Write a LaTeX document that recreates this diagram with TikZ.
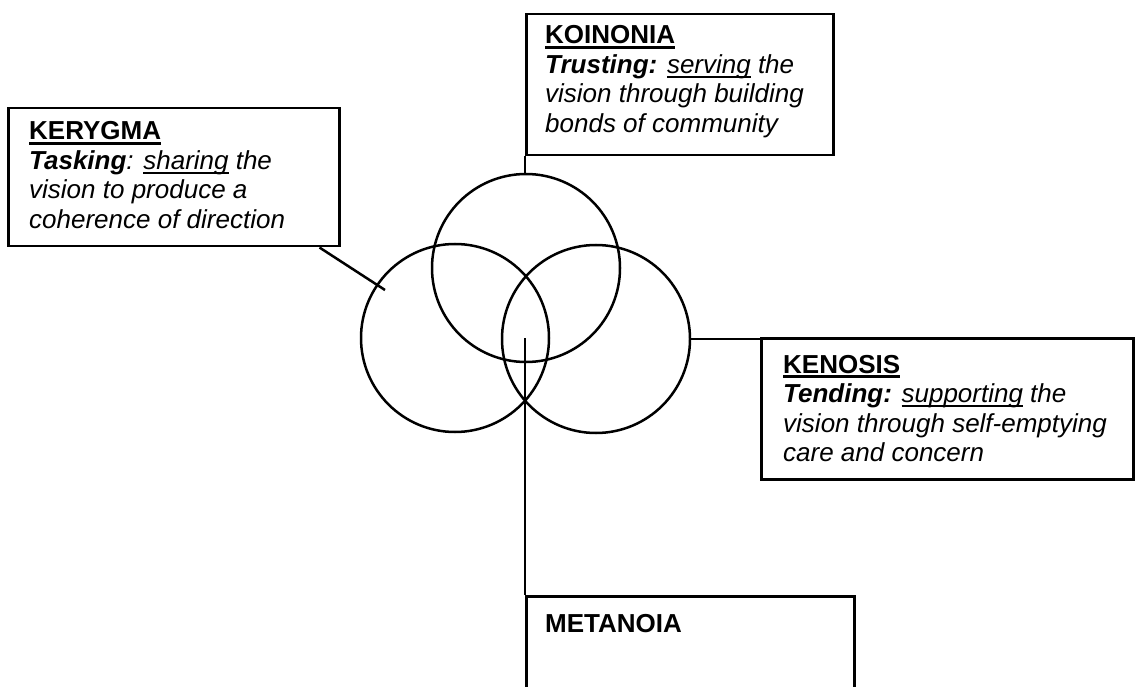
\documentclass[tikz,border=0pt]{standalone}
\usepackage{fontspec}
\setmainfont{Liberation Sans}
\usetikzlibrary{calc}

% underlined words: heading rule and body rule sit just under the baseline
\newcommand\ulhead[1]{\setbox0\hbox{#1}\rlap{\rule[-5pt]{\wd0}{2.6pt}}\box0}
\newcommand\ulbody[1]{\setbox0\hbox{#1}\rlap{\rule[-4.5pt]{\wd0}{2pt}}\box0}
% a block of lines whose reference point is the first baseline
\newcommand\stack[1]{\vtop{\baselineskip=29.5pt\lineskiplimit=-\maxdimen\lineskip=0pt #1}}

\tikzset{
  frame/.style={draw, line width=2.5pt, inner sep=0pt, anchor=north west},
  ring/.style={circle, draw, line width=2.5pt, minimum size=188pt, inner sep=0pt},
  link/.style={line width=2.5pt},
  caption/.style={anchor=base west, inner sep=0pt, font=\fontsize{26}{29.5}\selectfont}
}

\begin{document}
\begin{tikzpicture}[x=1pt, y=-1pt]
\useasboundingbox (0,0) rectangle (1141,687);

% the four boxes
\node[frame, minimum width=331pt, minimum height=138pt] (kerygma) at (7,107) {};
\node[frame, minimum width=307pt, minimum height=141pt] (koinonia) at (525,13) {};
\node[frame, minimum width=372pt, minimum height=141pt] (kenosis) at (760,337) {};
\node[frame, minimum width=328pt, minimum height=130pt] (metanoia) at (525,595) {};

% box texts
\node[caption] (kerygmaText) at (29,140) {\stack{%
  \hbox{\bfseries\ulhead{KERYGMA}}%
  \hbox{\itshape{\bfseries Tasking}: \ulbody{sharing}\ the}%
  \hbox{\itshape vision to produce a}%
  \hbox{\itshape coherence of direction}}};
\node[caption] (koinoniaText) at (545,44) {\stack{%
  \hbox{\bfseries\ulhead{KOINONIA}}%
  \hbox{\itshape{\bfseries Trusting:} \ulbody{serving}\ the}%
  \hbox{\itshape vision through building}%
  \hbox{\itshape bonds of community}}};
\node[caption] (kenosisText) at (783,373) {\stack{%
  \hbox{\bfseries\ulhead{KENOSIS}}%
  \hbox{\itshape{\bfseries Tending:} \ulbody{supporting}\ the}%
  \hbox{\itshape vision through self-emptying}%
  \hbox{\itshape care and concern}}};
\node[caption] (metanoiaText) at (545,632) {\bfseries METANOIA};

% the three overlapping circles
\node[ring] (ringTop) at (526,268) {};
\node[ring] (ringLeft) at (455,338) {};
\node[ring] (ringRight) at (596,339) {};

% connectors
\coordinate (kerygmaEnd) at (385,290);
\coordinate (hub) at (525,338);
\draw[link] ([xshift=-21pt]kerygma.south east) -- (kerygmaEnd);
\draw[link] (koinonia.south west) -- (koinonia.south west |- ringTop.north);
\draw[link] (ringRight.east) -- (ringRight.east -| kenosis.west);
\draw[link] (hub) -- (hub |- metanoia.north);
\end{tikzpicture}
\end{document}
